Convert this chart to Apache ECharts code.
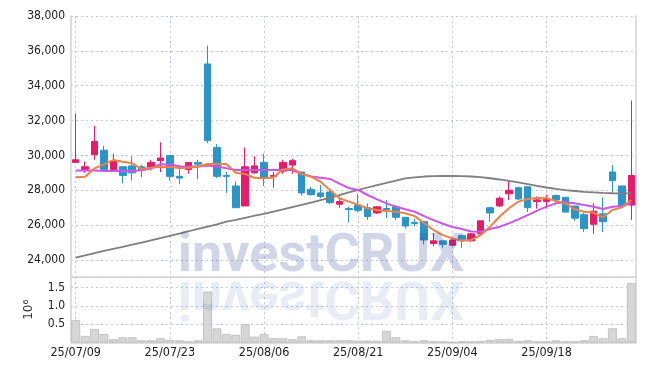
<!DOCTYPE html>
<html><head><meta charset="utf-8">
<script src="https://cdn.jsdelivr.net/npm/echarts@6/dist/echarts.min.js"></script>
<style>html,body{margin:0;padding:0;background:#fff}#c{width:645px;height:371px}</style>
</head><body><div id="c"></div>
<script>
const dates = ['25/07/09','25/07/10','25/07/11','25/07/14','25/07/15','25/07/16','25/07/17','25/07/18','25/07/21','25/07/22',
'25/07/23','25/07/24','25/07/25','25/07/28','25/07/29','25/07/30','25/07/31','25/08/01','25/08/04','25/08/05',
'25/08/06','25/08/07','25/08/08','25/08/11','25/08/12','25/08/13','25/08/14','25/08/18','25/08/19','25/08/20',
'25/08/21','25/08/22','25/08/25','25/08/26','25/08/27','25/08/28','25/08/29','25/09/01','25/09/02','25/09/03',
'25/09/04','25/09/05','25/09/08','25/09/09','25/09/10','25/09/11','25/09/12','25/09/15','25/09/16','25/09/17',
'25/09/18','25/09/19','25/09/22','25/09/23','25/09/24','25/09/25','25/09/26','25/09/29','25/09/30','25/10/01'];
const opens = [29600,29200,30050,30300,29200,29350,29400,29350,29300,29700,30000,28800,29200,29600,35250,30450,28850,28250,27100,29000,29600,28800,29100,29450,29050,28050,27850,27900,27200,26950,27150,27000,26700,26950,27050,26450,26150,26200,24950,25100,24850,25400,25100,25500,27000,27100,27800,28150,28200,27350,27350,27700,27600,27100,26600,26050,26650,29050,28250,27150];
const closes = [29750,29350,30800,29200,29700,28850,29000,29150,29600,29850,28800,28700,29600,29500,30850,28800,28800,27000,29350,29400,28700,28850,29600,29700,27850,27750,27650,27300,27350,26900,26850,26500,27050,26900,26450,25950,26100,25150,25100,24900,25150,25100,25500,26250,26700,27550,28000,27500,27000,27450,27500,27450,26750,26400,25800,26800,26200,28550,27100,28850];
const lows = [29600,29000,29750,29050,29150,28400,28550,28750,29150,29050,28550,28350,28950,28650,30700,28700,27850,27000,27100,28950,28250,28150,28950,28950,27700,27700,27550,27200,27000,26150,26750,26300,26650,26400,26300,25800,25950,24900,24800,24700,24800,24700,25050,25500,26200,27050,27450,27450,26750,26950,26950,27200,26750,26250,25600,25500,25600,27850,27100,26300];
const highs = [32400,29650,31700,30550,30100,29350,29950,29450,29750,30750,30000,29250,29600,29750,36300,30650,29050,28500,30450,29950,30100,29050,29750,29800,29050,28200,28300,28000,27550,27050,27800,27250,27100,27450,27150,26450,26350,26250,25550,25100,25200,25450,25550,26250,27050,27650,28550,28200,28250,27650,27750,27750,27600,27100,26700,27250,27600,29450,28250,33150];
const volumes = [0.615,0.178,0.369,0.232,0.087,0.141,0.141,0.059,0.059,0.114,0.068,0.059,0.032,0.059,1.39,0.387,0.232,0.205,0.505,0.159,0.232,0.123,0.114,0.087,0.168,0.059,0.059,0.059,0.059,0.068,0.05,0.05,0.05,0.314,0.141,0.059,0.032,0.059,0.032,0.032,0.014,0.032,0.032,0.04,0.068,0.096,0.096,0.04,0.059,0.032,0.032,0.059,0.032,0.032,0.059,0.178,0.114,0.387,0.114,1.626];
const ma5 = [28750,28780,29260,29490,29740,29640,29550,29220,29300,29350,29330,29280,29300,29350,29510,29510,29510,29010,28930,28720,28690,28740,29200,29260,28930,28780,28490,28020,27540,27350,27160,26970,26870,26810,26770,26680,26520,26110,25720,25430,25240,25110,25150,25430,25910,26480,26970,27350,27500,27560,27540,27390,27250,26910,26770,26710,26450,26870,27020,27440];
const ma20 = [29130,29130,29130,29110,29100,29100,29110,29150,29260,29500,29480,29380,29360,29360,29420,29360,29260,29170,29160,29160,29160,29160,29160,29160,28950,28790,28720,28650,28380,28130,28020,27730,27480,27250,27060,26910,26770,26520,26290,26080,25890,25780,25640,25620,25780,25910,26100,26330,26580,26830,27060,27250,27310,27250,27150,27060,26930,27060,27100,27250];
const ma60 = [24130,24260,24390,24520,24640,24760,24880,25000,25130,25260,25390,25520,25650,25790,25920,26050,26200,26300,26420,26540,26650,26780,26900,27030,27160,27290,27430,27570,27720,27880,28020,28160,28300,28430,28560,28680,28740,28790,28810,28820,28820,28810,28790,28750,28690,28620,28540,28450,28350,28250,28160,28080,28010,27960,27910,27880,27850,27830,27820,27820];
const priceTicks = [24000,26000,28000,30000,32000,34000,36000,38000];
const volumeTicks = [0.5,1.0,1.5];

const chart = echarts.init(document.getElementById('c'), null, {renderer:'canvas'});
const candles = dates.map((d,i)=>[opens[i], closes[i], lows[i], highs[i]]);
const UP = '#e61b69', DOWN = '#2b95c8';
const FONT = 'DejaVu Sans Condensed';
const axisLineStyle = {color:'#d2d2d2', width:1.5};
const dotted = {color:'#c6c9d8', type:[2,3], width:1};

const option = {
  animation:false,
  backgroundColor:'#ffffff',
  grid:[{left:71,right:9,top:16,height:261},{left:71,right:9,top:277,height:65.5}],
  xAxis:[
    {type:'category', gridIndex:0, data:dates, boundaryGap:true,
     axisLine:{show:true, lineStyle:axisLineStyle}, axisTick:{show:false}, axisLabel:{show:false},
     splitLine:{show:true, interval:9, alignWithLabel:true, lineStyle:dotted}},
    {type:'category', gridIndex:1, data:dates, boundaryGap:true,
     axisLine:{show:true, lineStyle:axisLineStyle}, axisTick:{show:false, alignWithLabel:true},
     axisLabel:{interval:9, margin:4, fontSize:12.5, color:'#222', fontFamily:FONT},
     splitLine:{show:true, interval:9, alignWithLabel:true, lineStyle:dotted}}
  ],
  yAxis:[
    {type:'value', gridIndex:0, min:23025, max:38000, splitNumber:7, scale:false,
     axisLine:{show:true, lineStyle:axisLineStyle}, axisTick:{show:false},
     axisLabel:{fontSize:12, color:'#222', fontFamily:FONT, margin:6,
       formatter:v=>priceTicks.includes(Math.round(v)) ? Math.round(v).toLocaleString('en-US') : ''},
     splitLine:{show:true, lineStyle:dotted}},
    {type:'value', gridIndex:0, position:'right', min:0, max:1,
     axisLine:{show:true, lineStyle:axisLineStyle}, axisTick:{show:false}, axisLabel:{show:false}, splitLine:{show:false}},
    {type:'value', gridIndex:1, min:0, max:1.79, interval:0.5,
     name:'10\u2076', nameLocation:'middle', nameRotate:90, nameGap:36,
     nameTextStyle:{fontFamily:'DejaVu Sans', fontSize:12, color:'#333'},
     axisLine:{show:true, lineStyle:axisLineStyle}, axisTick:{show:false},
     axisLabel:{fontSize:12, color:'#222', fontFamily:FONT, margin:6,
       formatter:v=>{const r=Math.round(v*10)/10; return volumeTicks.includes(r)&&Math.abs(v-r)<1e-6 ? r.toFixed(1) : '';}},
     splitLine:{show:true, lineStyle:dotted}},
    {type:'value', gridIndex:1, position:'right', min:0, max:1,
     axisLine:{show:true, lineStyle:axisLineStyle}, axisTick:{show:false}, axisLabel:{show:false}, splitLine:{show:false}}
  ],
  series:[
    {type:'candlestick', xAxisIndex:0, yAxisIndex:0, data:candles, barWidth:7, z:2,
     itemStyle:{color:UP, color0:DOWN, borderColor:UP, borderColor0:DOWN, borderWidth:1}},
    {type:'line', xAxisIndex:0, yAxisIndex:0, data:ma60, symbol:'none', z:3,
     lineStyle:{color:'#7f7f7f', width:1.8}},
    {type:'line', xAxisIndex:0, yAxisIndex:0, data:ma20, symbol:'none', z:4,
     lineStyle:{color:'#cc55ee', width:2}},
    {type:'line', xAxisIndex:0, yAxisIndex:0, data:ma5, symbol:'none', z:5,
     lineStyle:{color:'#ee8048', width:2}},
    {type:'bar', xAxisIndex:1, yAxisIndex:2, data:volumes, barCategoryGap:'6%',
     itemStyle:{color:'#d6d6d6', borderColor:'#bcbcbc', borderWidth:0.8}}
  ],
  graphic:[
    {type:'text', x:321, y:257, z:100, silent:true,
     style:{text:'investCRUX', font:'bold 54px Roboto', fill:'rgba(40,70,150,0.22)', textAlign:'center', textVerticalAlign:'middle'}},
    {type:'group', x:0, y:276, scaleY:-1, silent:true,
     children:[{type:'text', x:321, y:-19, z:99,
       style:{text:'investCRUX', font:'bold 54px Roboto', fill:'rgba(40,70,150,0.10)', textAlign:'center', textVerticalAlign:'middle'}}]}
  ]
};
chart.setOption(option);
</script></body></html>
